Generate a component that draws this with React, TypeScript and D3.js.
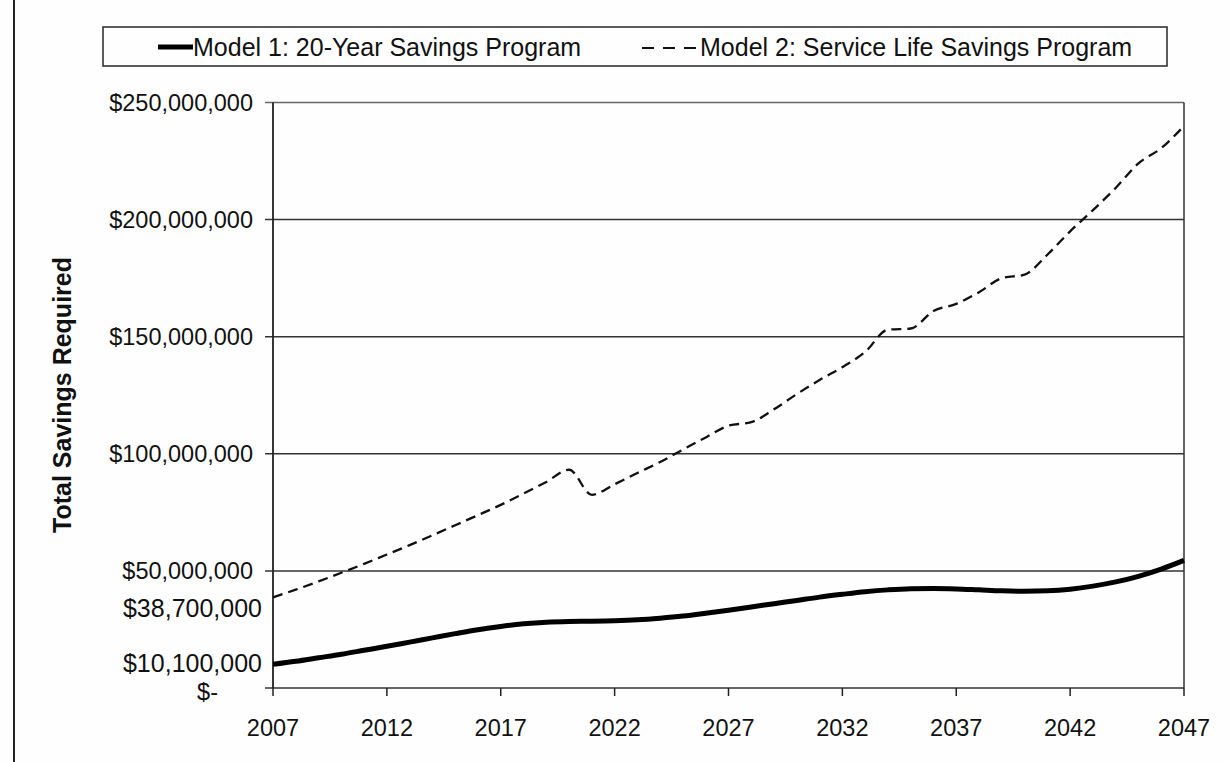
import React from "react";
import * as d3 from "d3";

const years = [
  2007, 2008, 2009, 2010, 2011, 2012, 2013, 2014, 2015, 2016,
  2017, 2018, 2019, 2020, 2021, 2022, 2023, 2024, 2025, 2026,
  2027, 2028, 2029, 2030, 2031, 2032, 2033, 2034, 2035, 2036,
  2037, 2038, 2039, 2040, 2041, 2042, 2043, 2044, 2045, 2046, 2047,
];

// Model 1: 20-Year Savings Program (millions $)
const model1 = [
  10.1, 11.4, 12.9, 14.4, 16.1, 17.8, 19.6, 21.4, 23.2, 24.9,
  26.3, 27.4, 28.1, 28.4, 28.5, 28.7, 29.1, 29.8, 30.7, 31.9,
  33.2, 34.6, 36.0, 37.4, 38.8, 40.0, 41.1, 41.9, 42.4, 42.5,
  42.3, 41.9, 41.5, 41.3, 41.5, 42.2, 43.5, 45.3, 47.7, 50.8, 54.5,
];

// Model 2: Service Life Savings Program (millions $)
const model2 = [
  38.7, 42.0, 45.5, 49.2, 53.0, 57.0, 61.0, 65.2, 69.5, 73.8,
  78.2, 83.0, 88.0, 93.2, 82.5, 87.0, 91.8, 96.5, 101.8, 107.0,
  112.0, 113.5, 119.0, 125.5, 131.5, 137.0, 143.5, 153.0, 153.5, 161.0,
  164.0, 169.0, 175.0, 176.5, 185.0, 195.0, 204.0, 213.5, 224.0, 230.5, 240.0,
];

const yTicks = [0, 50e6, 100e6, 150e6, 200e6, 250e6];
const extraYLabels = [38.7e6, 10.1e6];
const xTicks = [2007, 2012, 2017, 2022, 2027, 2032, 2037, 2042, 2047];
const seriesNames = [
  "Model 1: 20-Year Savings Program",
  "Model 2: Service Life Savings Program",
];
const yTitle = "Total Savings Required";

const W = 1230;
const H = 762;
const FONT = "'Liberation Sans', Arial, Helvetica, sans-serif";

export default function App() {
  const x = d3.scaleLinear().domain([2007, 2047]).range([273, 1184]);
  const y = d3.scaleLinear().domain([0, 250e6]).range([688, 102.5]);

  const line = d3
    .line<[number, number]>()
    .x((d) => x(d[0]))
    .y((d) => y(d[1] * 1e6))
    .curve(d3.curveMonotoneX);

  const d1 = line(years.map((yr, i) => [yr, model1[i]] as [number, number])) || "";
  const d2 = line(years.map((yr, i) => [yr, model2[i]] as [number, number])) || "";

  const fmt = (v: number) => (v === 0 ? "$-" : "$" + d3.format(",")(v));
  const [x0, x1] = x.range();
  const yBottom = y(0);
  const yTop = y(250e6);

  return (
    <svg
      width={W}
      height={H}
      viewBox={`0 0 ${W} ${H}`}
      style={{ position: "absolute", left: 0, top: 0, background: "#fff" }}
      fontFamily={FONT}
    >
      <rect x={0} y={0} width={W} height={H} fill="#fefefe" />
      {/* outer frame left edge */}
      <line x1={14} x2={14} y1={0} y2={H} stroke="#222" strokeWidth={2} />

      {/* legend */}
      <rect x={103} y={27} width={1064} height={39} fill="none" stroke="#333" strokeWidth={1.6} />
      <line x1={158} x2={193} y1={47} y2={47} stroke="#000" strokeWidth={5} />
      <text x={193} y={56} fontSize={25} fill="#111">{seriesNames[0]}</text>
      <line x1={642} x2={696} y1={48} y2={48} stroke="#111" strokeWidth={2.2} strokeDasharray="12,9" />
      <text x={700} y={56} fontSize={25} fill="#111">{seriesNames[1]}</text>

      {/* gridlines and y ticks */}
      {yTicks.map((v) => (
        <line
          key={"g" + v}
          x1={x0 - 8}
          x2={x1}
          y1={y(v)}
          y2={y(v)}
          stroke={v === 250e6 ? "#666" : "#333"}
          strokeWidth={1.5}
        />
      ))}
      {/* plot border right */}
      <line x1={x1} x2={x1} y1={yTop} y2={yBottom} stroke="#333" strokeWidth={1.5} />
      {/* y axis */}
      <line x1={x0} x2={x0} y1={yTop} y2={yBottom} stroke="#222" strokeWidth={1.8} />
      {/* x axis ticks */}
      {xTicks.map((t) => (
        <line key={"xt" + t} x1={x(t)} x2={x(t)} y1={yBottom} y2={yBottom + 8} stroke="#222" strokeWidth={1.5} />
      ))}

      {/* y tick labels */}
      {yTicks.map((v) => (
        <text
          key={"yl" + v}
          x={v === 0 ? 218 : 253}
          y={y(v) + (v === 0 ? 4 : 0)}
          dy="0.36em"
          textAnchor="end"
          fontSize={23.5}
          fill="#111"
        >
          {fmt(v)}
        </text>
      ))}
      {extraYLabels.map((v) => (
        <text
          key={"ye" + v}
          x={262}
          y={y(v) + (v > 30e6 ? 11 : -1)}
          dy="0.36em"
          textAnchor="end"
          fontSize={25}
          fill="#111"
        >
          {fmt(v)}
        </text>
      ))}

      {/* x tick labels */}
      {xTicks.map((t) => (
        <text key={"xl" + t} x={x(t)} y={736} textAnchor="middle" fontSize={23.5} fill="#111">
          {t}
        </text>
      ))}

      {/* y axis title */}
      <text
        transform={`translate(62,395) rotate(-90)`}
        textAnchor="middle"
        dy="0.36em"
        fontSize={25}
        fontWeight="bold"
        fill="#111"
      >
        {yTitle}
      </text>

      {/* series */}
      <path d={d2} fill="none" stroke="#111" strokeWidth={2.3} strokeDasharray="10,6" />
      <path d={d1} fill="none" stroke="#000" strokeWidth={5} strokeLinejoin="round" />
    </svg>
  );
}
